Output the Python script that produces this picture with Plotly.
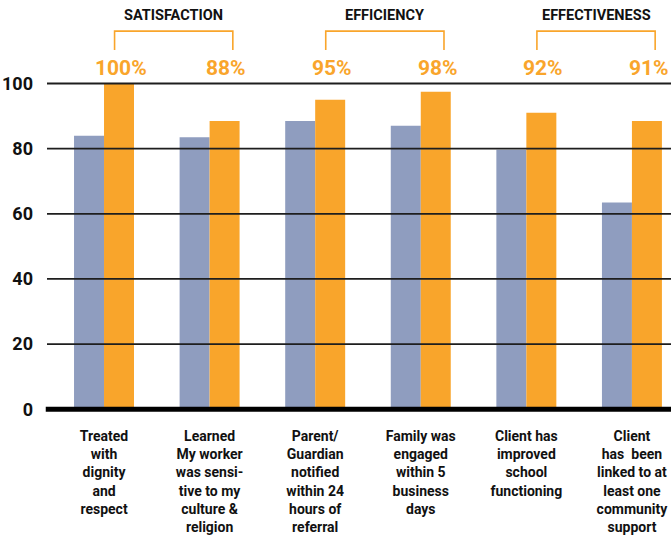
import plotly.graph_objects as go

categories = [
    "Treated<br>with<br>dignity<br>and<br>respect",
    "Learned<br>My worker<br>was sensi-<br>tive to my<br>culture &<br>religion",
    "Parent/<br>Guardian<br>notified<br>within 24<br>hours of<br>referral",
    "Family was<br>engaged<br>within 5<br>business<br>days",
    "Client has<br>improved<br>school<br>functioning",
    "Client<br>has  been<br>linked to at<br>least one<br>community<br>support",
]
series_prev = [84, 83.5, 88.5, 87, 79.7, 63.5]
series_curr = [100, 88.5, 95, 97.5, 91, 88.5]
pct_labels = ["100%", "88%", "95%", "98%", "92%", "91%"]
groups = ["SATISFACTION", "EFFICIENCY", "EFFECTIVENESS"]
group_start_idx = [0, 2, 4]
y_ticks = [0, 20, 40, 60, 80, 100]

BLUE = "#8F9DBF"
ORANGE = "#F9A52B"
FONT = "Roboto, Liberation Sans, sans-serif"

xs = list(range(len(categories)))

fig = go.Figure()
fig.add_trace(go.Bar(x=xs, y=series_prev, marker=dict(color=BLUE, line=dict(width=0)),
                     hoverinfo="skip", showlegend=False))
fig.add_trace(go.Bar(x=xs, y=series_curr, marker=dict(color=ORANGE, line=dict(width=0)),
                     hoverinfo="skip", showlegend=False))

shapes = []
# gridlines drawn above bars
for v in y_ticks[1:]:
    shapes.append(dict(type="line", xref="paper", yref="y", x0=0, x1=1, y0=v, y1=v,
                       line=dict(color="#1e1e1e", width=1.8), layer="above"))
# thick baseline
shapes.append(dict(type="line", xref="paper", yref="y", x0=-0.002, x1=1, y0=0, y1=0,
                   line=dict(color="#000000", width=5), layer="above"))

annotations = []
for i, lab in enumerate(pct_labels):
    annotations.append(dict(x=i + 0.16, y=1.026, xref="x", yref="paper", text=lab,
                            showarrow=False, xanchor="center", yanchor="middle",
                            font=dict(family=FONT, size=21, color=ORANGE, weight=700)))

y_top, y_bot = 1.134, 1.079
for g, s in zip(groups, group_start_idx):
    x0 = s + 0.1
    x1 = s + 1 + 0.22
    shapes.append(dict(type="path", xref="x", yref="paper",
                       path=f"M {x0},{y_bot} L {x0},{y_top} L {x1},{y_top} L {x1},{y_bot}",
                       line=dict(color=ORANGE, width=1.6)))
    annotations.append(dict(x=(x0 + x1) / 2, y=1.18, xref="x", yref="paper", text=g,
                            showarrow=False, xanchor="center", yanchor="middle",
                            font=dict(family=FONT, size=14.5, color="#111111", weight=700)))

fig.update_layout(
    width=671, height=539,
    margin=dict(l=47, r=0, t=77, b=120, pad=0),
    paper_bgcolor="white", plot_bgcolor="white",
    barmode="group", bargap=0.432, bargroupgap=0,
    shapes=shapes, annotations=annotations,
    hovermode=False,
    xaxis=dict(range=[-0.54, 5.37], tickvals=xs, ticktext=categories,
               showgrid=False, zeroline=False, showline=False, ticks="",
               ticklabelstandoff=7, ticklabeloverflow="allow",
               tickfont=dict(family=FONT, size=14, color="#111111", weight=700)),
    yaxis=dict(range=[-3, 102], tickvals=y_ticks, ticktext=[str(v) for v in y_ticks],
               showgrid=False, zeroline=False, showline=False, ticks="",
               ticklabelstandoff=13,
               tickfont=dict(family=FONT, size=18, color="#111111", weight=700)),
)

fig.write_html("out.html", config={"displayModeBar": False},
               post_script="document.body.style.margin='0';document.body.style.overflow='hidden';")
